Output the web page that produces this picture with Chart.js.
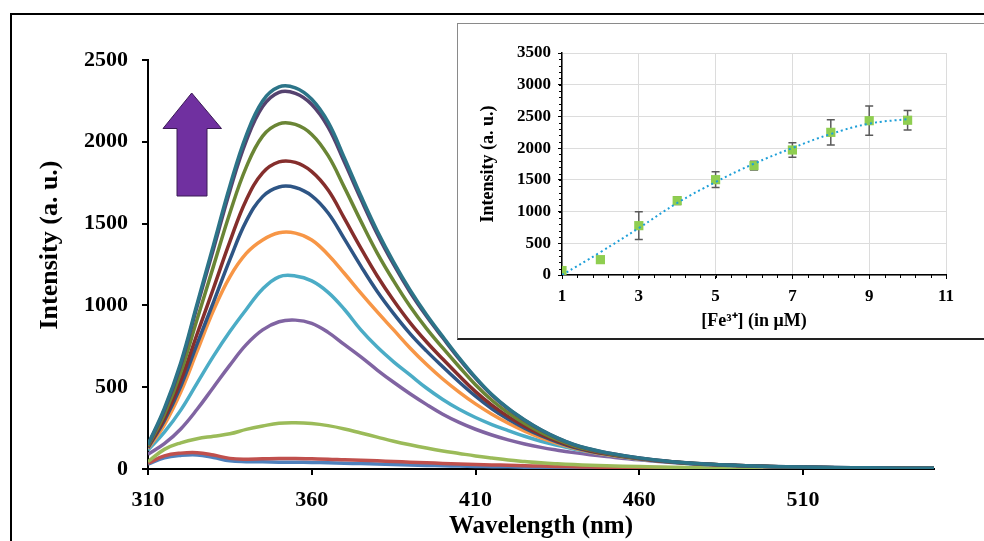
<!DOCTYPE html>
<html>
<head>
<meta charset="utf-8">
<script src="https://cdn.jsdelivr.net/npm/chart.js@4.4.1/dist/chart.umd.min.js"></script>
<style>
  html, body { margin:0; padding:0; background:#fff; overflow:hidden; }
  #wrap { position:relative; width:984px; height:541px; overflow:hidden; }
  #frame { position:absolute; left:10px; top:13px; width:1000px; height:600px; border-left:2px solid #000; border-top:2px solid #000; }
  #main { position:absolute; left:0; top:0; }
  #insetBox { position:absolute; left:457px; top:23px; width:540px; height:314px; background:#fff;
              border-left:1px solid #8a8a8a; border-top:1px solid #8a8a8a; border-bottom:2px solid #222; }
  #inset { position:absolute; left:0; top:0; }
</style>
</head>
<body>
<div id="wrap">
  <div id="frame"></div>
  <canvas id="main" width="984" height="541"></canvas>
  <div id="insetBox"><canvas id="inset" width="526" height="313"></canvas></div>
</div>
<script>
// ---------- Main spectra data (wavelength in nm, intensity in a.u.) ----------
const wavelengths = [310,315,320,325,330,335,340,345,350,355,360,365,370,375,380,385,390,395,400,405,410,415,420,425,430,435,440,445,450,
                     460,470,480,490,500,510,520,530,540,550];
const s1  = [30,68,83,86,70,50,45,44,42,41,40,38,35,33,31,28,25,22,20,18,16,14,13,11,10,9,8,7,6, 5,5,4,3,3,2,2,2,1,1];
const s2  = [35,80,97,100,85,65,60,62,64,64,62,60,56,53,50,46,42,38,34,31,28,25,23,20,18,16,14,12,11, 9,8,6,5,4,4,3,3,2,2];
const s3  = [45,120,160,185,200,215,242,263,280,283,278,265,245,220,195,170,148,128,110,95,80,67,55,46,38,32,27,23,20, 15,11,9,7,6,5,4,3,3,2];
const s4  = [90,155,245,365,500,635,760,850,900,910,890,835,760,685,605,530,460,395,335,285,243,208,178,153,132,115,100,87,76, 56,40,28,20,14,10,8,6,4,3];
const s5  = [115,225,360,525,690,840,975,1100,1175,1180,1150,1080,975,850,745,655,575,495,425,365,315,272,235,200,170,145,122,103,87, 60,41,28,20,14,10,8,6,4,3];
const s6  = [125,270,470,720,970,1175,1318,1400,1444,1442,1400,1310,1195,1075,960,850,740,640,550,470,398,335,280,232,191,157,128,105,88, 61,42,29,20,14,10,8,6,4,3];
const s7  = [130,295,505,765,1020,1280,1515,1665,1724,1721,1670,1565,1405,1240,1085,950,828,722,625,532,445,368,304,250,204,165,133,109,91, 63,43,29,21,15,11,8,6,5,3];
const s8  = [135,310,540,825,1105,1390,1645,1810,1877,1874,1818,1705,1530,1350,1180,1030,895,778,672,570,473,390,320,262,212,171,137,112,93, 64,43,30,21,15,11,8,6,5,4];
const s9  = [140,335,590,915,1240,1565,1845,2035,2110,2106,2045,1915,1720,1515,1320,1150,995,860,740,625,515,420,343,278,224,179,142,116,96, 65,44,30,21,15,11,8,6,5,4];
const s10 = [148,360,635,995,1345,1700,2005,2215,2302,2296,2228,2090,1875,1650,1437,1250,1082,935,802,673,555,451,367,298,238,189,149,121,99, 67,45,31,22,16,12,9,7,5,4];
const s11 = [150,370,650,1010,1370,1730,2040,2250,2336,2330,2260,2120,1900,1670,1455,1265,1095,945,810,680,560,455,370,300,240,190,150,122,100, 68,45,31,22,16,12,9,7,5,4];
const seriesList = [s1,s2,s3,s4,s5,s6,s7,s8,s9,s10,s11];
const seriesColors = ['#4F81BD','#C0504D','#9BBB59','#8064A2','#4BACC6','#F79646','#2E5585','#852E2C','#6A8535','#55426F','#2C7488'];
const xTickValues = [310,360,410,460,510];
const yTickValues = [0,500,1000,1500,2000,2500];

// ---------- Inset data ----------
const feConc = [1,2,3,4,5,6,7,8,9,10];
const feIntensity = [70,242,778,1172,1503,1724,1971,2249,2433,2440];
const feError = [0,0,220,60,125,70,115,200,230,155];
const trendValues = [0,360,740,1135,1466,1755,2002,2223,2386,2459];
const insetXTicks = [1,3,5,7,9,11];

const serif = "'Liberation Serif', 'Times New Roman', serif";

// ---------- Main chart ----------
const arrowPlugin = {
  id: 'arrow',
  afterDraw(chart) {
    const ctx = chart.ctx;
    ctx.save();
    ctx.beginPath();
    ctx.moveTo(191.7, 93);
    ctx.lineTo(221.5, 128.5);
    ctx.lineTo(207, 128.5);
    ctx.lineTo(207, 196);
    ctx.lineTo(177, 196);
    ctx.lineTo(177, 128.5);
    ctx.lineTo(163, 128.5);
    ctx.closePath();
    ctx.fillStyle = '#7030A0';
    ctx.fill();
    ctx.strokeStyle = '#3a1a55';
    ctx.lineWidth = 1;
    ctx.stroke();
    ctx.restore();
  }
};

new Chart(document.getElementById('main'), {
  type: 'line',
  data: {
    datasets: seriesList.map((s, i) => ({
      data: wavelengths.map((w, j) => ({x: w, y: s[j]})),
      borderColor: seriesColors[i],
      borderWidth: 3.5,
      pointRadius: 0,
      fill: false,
      tension: 0.4,
      order: seriesList.length - i
    }))
  },
  options: {
    responsive: false,
    devicePixelRatio: 1,
    animation: false,
    layout: { padding: { left: 0, top: 60, right: 50, bottom: 0 } },
    plugins: { legend: { display: false }, tooltip: { enabled: false } },
    scales: {
      x: {
        type: 'linear', min: 310, max: 550,
        afterBuildTicks: s => { s.ticks = xTickValues.map(v => ({value: v})); },
        afterFit: s => { s.height = 72; },
        grid: { display: true, drawOnChartArea: false, drawTicks: true, tickLength: 6, color: '#000', lineWidth: 2 },
        border: { display: true, color: '#000', width: 2 },
        ticks: { color: '#000', padding: 12, font: { family: serif, size: 22, weight: 'bold' }, maxRotation: 0,
                 callback: v => String(v) },
        title: { display: true, text: 'Wavelength (nm)', color: '#000', padding: { top: 0, bottom: 1.5 },
                 font: { family: serif, size: 25, weight: 'bold', lineHeight: 1 } }
      },
      y: {
        type: 'linear', min: 0, max: 2500,
        afterBuildTicks: s => { s.ticks = yTickValues.map(v => ({value: v})); },
        afterFit: s => { s.width = 148; },
        grid: { display: true, drawOnChartArea: false, drawTicks: true, tickLength: 6, color: '#000', lineWidth: 2 },
        border: { display: true, color: '#000', width: 2 },
        ticks: { color: '#000', padding: 14, font: { family: serif, size: 22, weight: 'bold' }, callback: v => String(v) },
        title: { display: true, text: '      Intensity (a. u.)', color: '#000', padding: { top: 37, bottom: 0 },
                 font: { family: serif, size: 26, weight: 'bold', lineHeight: 1 } }
      }
    }
  },
  plugins: [arrowPlugin]
});

// ---------- Inset chart ----------
const errorBarPlugin = {
  id: 'errorBars',
  beforeDatasetsDraw(chart) {
    const ctx = chart.ctx, xs = chart.scales.x, ys = chart.scales.y;
    ctx.save();
    ctx.strokeStyle = '#5a5a5a';
    ctx.lineWidth = 1.5;
    feConc.forEach((c, i) => {
      if (!feError[i]) return;
      const x = xs.getPixelForValue(c);
      const yt = ys.getPixelForValue(feIntensity[i] + feError[i]);
      const yb = ys.getPixelForValue(feIntensity[i] - feError[i]);
      ctx.beginPath();
      ctx.moveTo(x, yt); ctx.lineTo(x, yb);
      ctx.moveTo(x - 4, yt); ctx.lineTo(x + 4, yt);
      ctx.moveTo(x - 4, yb); ctx.lineTo(x + 4, yb);
      ctx.stroke();
    });
    ctx.restore();
  }
};
const minorTickPlugin = {
  id: 'minorTicks',
  afterDraw(chart) {
    const ctx = chart.ctx, xs = chart.scales.x, ys = chart.scales.y;
    const area = chart.chartArea;
    ctx.save();
    ctx.strokeStyle = '#000';
    ctx.lineWidth = 1;
    ctx.beginPath();
    for (let v = 0; v <= 3500; v += 100) {
      const y = Math.round(ys.getPixelForValue(v)) + 0.5;
      ctx.moveTo(area.left - 3, y); ctx.lineTo(area.left, y);
    }
    for (let k = 0; k <= 25; k++) {
      const x = Math.round(xs.getPixelForValue(1 + k * 0.4)) + 0.5;
      ctx.moveTo(x, area.bottom); ctx.lineTo(x, area.bottom + 3);
    }
    ctx.stroke();
    ctx.restore();
  }
};

new Chart(document.getElementById('inset'), {
  type: 'line',
  data: {
    datasets: [
      {
        data: feConc.map((c, i) => ({x: c, y: trendValues[i]})),
        borderColor: '#1E9FD8',
        borderWidth: 2,
        borderDash: [2, 3],
        pointRadius: 0,
        fill: false,
        tension: 0.4,
        order: 0
      },
      {
        data: feConc.map((c, i) => ({x: c, y: feIntensity[i]})),
        showLine: false,
        pointStyle: 'rect',
        pointRadius: 6.5,
        pointBackgroundColor: '#8FCE50',
        pointBorderColor: '#8FCE50',
        pointBorderWidth: 0,
        order: 1
      }
    ]
  },
  options: {
    responsive: false,
    devicePixelRatio: 1,
    animation: false,
    layout: { padding: { left: 0, top: 29, right: 38, bottom: 0 } },
    plugins: { legend: { display: false }, tooltip: { enabled: false } },
    scales: {
      x: {
        type: 'linear', min: 1, max: 11,
        afterBuildTicks: s => { s.ticks = insetXTicks.map(v => ({value: v})); },
        afterFit: s => { s.height = 62; },
        grid: { display: true, drawOnChartArea: true, drawTicks: true, tickLength: 4, color: '#dcdcdc', tickColor: '#000', lineWidth: 1 },
        border: { display: true, color: '#000', width: 1.5 },
        ticks: { color: '#000', padding: 7, font: { family: serif, size: 17, weight: 'bold' }, maxRotation: 0,
                 callback: v => String(v) },
        title: { display: true, text: '[Fe³⁺] (in μM)', color: '#000', padding: { top: 0, bottom: 7 },
                 font: { family: serif, size: 18, weight: 'bold', lineHeight: 1 } }
      },
      y: {
        type: 'linear', min: 0, max: 3500,
        ticks: { stepSize: 500, color: '#000', padding: 7, font: { family: serif, size: 17, weight: 'bold' },
                 callback: v => String(v) },
        afterFit: s => { s.width = 104; },
        grid: { display: true, drawOnChartArea: true, drawTicks: true, tickLength: 4, color: '#dcdcdc', tickColor: '#000', lineWidth: 1 },
        border: { display: true, color: '#000', width: 1.5 },
        title: { display: true, text: 'Intensity (a. u.)', color: '#000', padding: { top: 21, bottom: 0 },
                 font: { family: serif, size: 18, weight: 'bold', lineHeight: 1 } }
      }
    }
  },
  plugins: [errorBarPlugin, minorTickPlugin]
});
</script>
</body>
</html>
